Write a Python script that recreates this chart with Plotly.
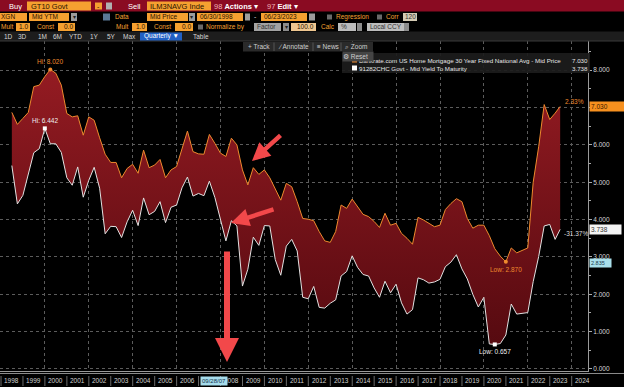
import plotly.graph_objects as go
import pandas as pd

# ---------------- data (quarterly, 06/30/1998 .. 06/23/2023) ----------------
start_date = "1998-06-30"
end_quarter = "2023-03-31"
last_date = "2023-06-23"

mortgage_30y = [6.87, 6.55, 6.71, 6.87, 7.56, 7.60, 7.83, 8.02, 7.92, 7.60,
                6.84, 6.75, 6.78, 6.26, 6.75, 6.66, 6.19, 5.75, 5.53, 5.53,
                5.12, 5.37, 5.48, 5.24, 5.86, 5.39, 5.46, 5.61, 5.12, 5.33,
                5.42, 5.91, 6.37, 5.82, 5.76, 5.75, 6.28, 6.04, 5.78, 5.69,
                6.18, 6.00, 5.33, 4.93, 5.39, 5.21, 5.33, 5.12, 4.84, 4.52,
                4.97, 4.88, 4.48, 4.03, 4.01, 3.97, 3.68, 3.43, 3.39, 3.68,
                4.39, 4.30, 4.55, 4.35, 4.14, 4.08, 3.95, 3.79, 4.17, 3.85,
                3.90, 3.63, 3.50, 3.34, 4.06, 3.99, 3.90, 3.81, 3.85, 4.27,
                4.43, 4.56, 4.48, 4.03, 3.77, 3.85, 3.85, 3.57, 3.22, 3.02,
                2.87, 3.24, 3.11, 3.18, 3.24, 5.00, 5.95, 7.08, 6.68, 6.85,
                7.03]

treasury_10y = [5.4466, 4.42, 4.65, 5.24, 5.79, 5.90, 6.442, 6.03, 6.03, 5.80,
                5.12, 4.92, 5.41, 4.60, 5.05, 5.40, 4.84, 3.62, 3.82, 3.81,
                3.52, 3.94, 4.25, 3.84, 4.58, 4.13, 4.22, 4.48, 3.92, 4.33,
                4.39, 4.85, 5.14, 4.63, 4.70, 4.64, 5.03, 4.59, 4.02, 3.43,
                3.97, 3.83, 2.22, 2.67, 3.53, 3.31, 3.84, 3.83, 2.93, 2.51,
                3.29, 3.47, 3.16, 1.92, 1.88, 2.21, 1.65, 1.63, 1.76, 1.85,
                2.49, 2.61, 3.03, 2.72, 2.53, 2.49, 2.17, 1.92, 2.35, 2.04,
                2.27, 1.77, 1.47, 1.59, 2.44, 2.39, 2.30, 2.33, 2.40, 2.74,
                2.86, 3.06, 2.68, 2.41, 2.00, 1.66, 1.92, 0.67, 0.657, 0.68,
                0.91, 1.74, 1.47, 1.49, 1.51, 2.34, 3.01, 3.83, 3.87, 3.47,
                3.738]

years = list(range(1998, 2025))
grid_years = list(range(2000, 2025, 2))
y_ticks = [0, 1, 2, 3, 4, 5, 6, 7, 8]
mortgage_name = "Bankrate.com US Home Mortgage 30 Year Fixed National Avg - Mid Price"
treasury_name = "91282CHC Govt - Mid Yield To Maturity"
cursor_date = "2007-09-28"
extra_tag = "2.835"

try:
    qdates = list(pd.date_range(start_date, end_quarter, freq="QE"))
except Exception:
    qdates = list(pd.date_range(start_date, end_quarter, freq="Q"))
dates = [d.strftime("%Y-%m-%d") for d in qdates] + [last_date]

# ---------------- geometry helpers ----------------
W, H = 624, 387
ML, MR, MT, MB = 0, 36, 41, 16
PW, PH = W - ML - MR, H - MT - MB
FONT = "Liberation Sans, Arial, sans-serif"

ORANGE = "#ee8a2e"
WHITE_LINE = "#e2e2e2"
AMBER = "#f5a030"
RED_BAR = "#8a0b22"


def px(x):
    return (x - ML) / PW


def py(y):
    return (H - MB - y) / PH


shapes = []
ann = []


def rect(x0, y0, x1, y1, fill, line=None):
    shapes.append(dict(type="rect", xref="paper", yref="paper",
                       x0=px(x0), x1=px(x1), y0=py(y1), y1=py(y0),
                       fillcolor=fill, layer="above",
                       line=dict(width=1 if line else 0, color=line or fill)))


def hline(x0, x1, y, color, width=1, dash="solid"):
    shapes.append(dict(type="line", xref="paper", yref="paper",
                       x0=px(x0), x1=px(x1), y0=py(y), y1=py(y), layer="above",
                       line=dict(color=color, width=width, dash=dash)))


def text(x, y, s, color, size=6.5, anchor="left", bg=None, width=None, height=None, align="left"):
    d = dict(xref="paper", yref="paper", x=px(x), y=py(y), text=s, showarrow=False,
             xanchor=anchor, yanchor="middle", align=align, borderpad=0,
             font=dict(color=color, size=size, family=FONT))
    if bg:
        d["bgcolor"] = bg
    if width:
        d["width"] = width
    if height:
        d["height"] = height
    ann.append(d)


fig = go.Figure()

# ---------------- series ----------------
fig.add_trace(go.Scatter(x=dates, y=treasury_10y, mode="lines",
                         line=dict(color=WHITE_LINE, width=1), hoverinfo="skip"))
fig.add_trace(go.Scatter(x=dates, y=mortgage_30y, mode="lines", fill="tonexty",
                         fillgradient=dict(type="vertical",
                                           colorscale=[[0, "#560a10"], [1, "#941b22"]]),
                         line=dict(color=ORANGE, width=1), hoverinfo="skip"))

# hi / low markers computed from the data
m_hi = mortgage_30y.index(max(mortgage_30y))
m_lo = mortgage_30y.index(min(mortgage_30y))
t_hi = treasury_10y.index(max(treasury_10y))
t_lo = treasury_10y.index(min(treasury_10y))
fig.add_trace(go.Scatter(x=[dates[m_hi], dates[m_lo]], y=[mortgage_30y[m_hi], mortgage_30y[m_lo]],
                         mode="markers", marker=dict(color=ORANGE, size=4), hoverinfo="skip"))
fig.add_trace(go.Scatter(x=[dates[t_hi], dates[t_lo]], y=[treasury_10y[t_hi], treasury_10y[t_lo]],
                         mode="markers", marker=dict(color="white", size=4, symbol="square"),
                         hoverinfo="skip"))


def data_label(i, series, s, color, above):
    ann.append(dict(x=dates[i], y=series[i], xref="x", yref="y", text=s, showarrow=False,
                    xanchor="center", yanchor="bottom" if above else "top",
                    yshift=2 if above else -2,
                    font=dict(color=color, size=6.5, family=FONT)))


data_label(m_hi, mortgage_30y, "Hi: %.3f" % mortgage_30y[m_hi], ORANGE, True)
data_label(t_hi, treasury_10y, "Hi: %.3f" % treasury_10y[t_hi], "#eeeeee", True)
data_label(m_lo, mortgage_30y, "Low: %.3f" % mortgage_30y[m_lo], ORANGE, False)
data_label(t_lo, treasury_10y, "Low: %.3f" % treasury_10y[t_lo], "#eeeeee", False)

m_pct = (mortgage_30y[-1] / mortgage_30y[0] - 1) * 100
t_pct = (treasury_10y[-1] / treasury_10y[0] - 1) * 100
ann.append(dict(x=dates[-1], y=mortgage_30y[-1], xref="x", yref="y", text="%.2f%%" % m_pct,
                showarrow=False, xanchor="left", yanchor="middle", xshift=3, yshift=5,
                font=dict(color=ORANGE, size=6.5, family=FONT)))
ann.append(dict(x=dates[-1], y=treasury_10y[-1], xref="x", yref="y", text="%.2f%%" % t_pct,
                showarrow=False, xanchor="left", yanchor="middle", xshift=2, yshift=-4,
                font=dict(color="#dddddd", size=6.5, family=FONT)))

# ---------------- top Bloomberg chrome ----------------
rect(0, 0, W, 11.5, RED_BAR)
rect(0, 31.5, W, 41, "#1d1d1d")
hline(0, W, 41, "#3a3a3a")

text(8, 6, "Buy", "white", 7.5)
rect(27, 1.5, 91, 10.5, AMBER)
text(30, 6, "GT10 Govt", "#2a1200", 7.5)
rect(95, 2.5, 102, 9.5, AMBER)
text(98.5, 6, "-", "#2a1200", 7, "center")
rect(106, 2.5, 112, 9.5, "#b0b0b0")
text(127, 6, "Sell", "white", 7.5)
rect(147, 1.5, 211, 10.5, AMBER)
text(149, 6, "ILM3NAVG Inde", "#2a1200", 7.5)
text(213, 6, "<span style='color:#f2b0b8'>98</span> <b>Actions</b> \u25be", "white", 7.5)
text(266, 6, "<span style='color:#f2b0b8'>97</span> <b>Edit</b> \u25be", "white", 7.5)

# row 2
R2 = 17
rect(-2, 13, 27, 21, AMBER); text(0, R2, "XGN", "#2a1200")
rect(29, 13, 69, 21, AMBER); text(31, R2, "Mid YTM", "#2a1200")
rect(71, 13, 77, 21, "#9c9c9c"); text(74, R2, "\u25be", "#222", 6, "center")
rect(103, 13.5, 110, 20.5, "#5a7896")
text(114, R2, "Data", AMBER)
rect(147, 13, 188, 21, AMBER); text(149, R2, "Mid Price", "#2a1200")
rect(189, 13, 195, 21, "#9c9c9c"); text(192, R2, "\u25be", "#222", 6, "center")
rect(197, 13, 243, 21, AMBER); text(199, R2, "06/30/1998", "#2a1200")
rect(245, 13.5, 250, 20.5, "#9c9c9c")
text(255, R2, "-", "#dddddd", 7, "center")
rect(261, 13, 307, 21, AMBER); text(263, R2, "06/23/2023", "#2a1200")
rect(309, 13.5, 315, 20.5, "#9c9c9c")
rect(327, 14.5, 332, 19.5, "#6a6a6a"); text(335, R2, "Regression", AMBER)
rect(377, 14.5, 382, 19.5, "#6a6a6a"); text(385, R2, "Corr", AMBER)
rect(403, 13, 417, 21, "#d4cbb4"); text(410, R2, "120", "#333", 6.5, "center")

# row 3
R3 = 27
text(14, R3, "Mult", AMBER, 6.5, "right")
rect(16, 23, 30, 31, AMBER); text(29, R3, "1.0", "#2a1200", 6.5, "right")
text(36, R3, "Const", AMBER)
rect(58, 23, 75, 31, AMBER); text(74, R3, "0.0", "#2a1200", 6.5, "right")
text(115, R3, "Mult", AMBER)
rect(132, 23, 147, 31, AMBER); text(146, R3, "1.0", "#2a1200", 6.5, "right")
text(153, R3, "Const", AMBER)
rect(175, 23, 193, 31, AMBER); text(192, R3, "0.0", "#2a1200", 6.5, "right")
rect(198, 24.5, 203, 29.5, "#6a6a6a"); text(205, R3, "Normalize by", AMBER)
rect(254, 23, 281, 31, "#a2a2a2"); text(256, R3, "Factor", "#333")
rect(283, 23, 289, 31, "#8c8c8c"); text(286, R3, "\u25be", "#222", 6, "center")
rect(291, 23, 316, 31, "#eec690"); text(315, R3, "100.0", "#2a1200", 6.5, "right")
text(320, R3, "Calc", AMBER)
rect(338, 23, 356, 31, "#bdbdbd"); text(340, R3, "%", "#333")
rect(357, 23, 362, 31, "#8c8c8c")
rect(367, 23, 404, 31, "#bdbdbd"); text(369, R3, "Local CCY", "#333")
rect(404, 23, 409, 31, "#8c8c8c")

# row 4 toolbar
R4 = 36.5
for lbl, x in [("1D", 3), ("3D", 17), ("1M", 37), ("6M", 52), ("YTD", 68),
               ("1Y", 89), ("5Y", 106), ("Max", 122)]:
    text(x, R4, lbl, "#d6d6d6")
rect(140, 32.5, 182, 40.5, "#2160c4")
text(161, R4, "Quarterly \u25bc", "white", 6.5, "center")
text(192, R4, "Table", "#d6d6d6")

# chart tool buttons
rect(243, 42, 373, 51.5, "#2a2a2a")
for x in [274, 313, 341]:
    shapes.append(dict(type="line", xref="paper", yref="paper", x0=px(x), x1=px(x),
                       y0=py(51), y1=py(42.5), layer="above",
                       line=dict(color="#555", width=1)))
text(247, 46.8, "+ Track", "#cfcfcf")
text(277, 46.8, "\u2215 Annotate", "#cfcfcf")
text(316, 46.8, "\u2261 News", "#cfcfcf")
text(344, 46.8, "\u2315 Zoom", "#cfcfcf")

# legend box
rect(342, 53, 590, 73, "rgba(28,28,28,0.92)")
rect(352, 57.5, 357, 62.5, ORANGE)
text(358, 60.5, mortgage_name, "#e6e6e6", 6.2)
text(589, 60.5, "%.3f" % mortgage_30y[-1], "#e6e6e6", 6.2, "right")
rect(352, 65.5, 357, 70.5, "white")
text(358, 68.3, treasury_name, "#e6e6e6", 6.2)
text(589, 68.3, "%.3f" % treasury_10y[-1], "#e6e6e6", 6.2, "right")
text(342, 57, "\u2699 Reset", "#cfcfcf", 6.5, "left", "#454545", 30, 9)


# right-side value tags
def tag(val, s, bg, fg, size=6.5, w=34):
    ann.append(dict(xref="paper", yref="y", x=px(589), y=val, text=s, showarrow=False,
                    xanchor="left", yanchor="middle", bgcolor=bg, borderpad=1,
                    width=w, align="left",
                    font=dict(color=fg, size=size, family=FONT)))


tag(mortgage_30y[-1], "%.3f" % mortgage_30y[-1], "#f7901e", "#3a1800")
tag(treasury_10y[-1], "%.3f" % treasury_10y[-1], "#f4f4f4", "#333333", 6.5, 29)
tag(float(extra_tag), extra_tag, "#a9dfea", "#1a3a4a", 5.5, 19)

# tick labels hidden under the last-value tag (as on the terminal)
covered = {round(mortgage_30y[-1])}
y_text = ["" if v in covered else "%.3f" % v for v in y_ticks]

# bottom date band
cursor_year = pd.Timestamp(cursor_date).year
hline(0, W, 373.5, "#8a8a8a")
for yv in years + [2025]:
    shapes.append(dict(type="line", xref="x", yref="paper",
                       x0="%d-01-01" % yv, x1="%d-01-01" % yv, y0=py(386), y1=py(376),
                       layer="above", line=dict(color="#6a6a6a", width=1)))
for yv in years:
    if yv == cursor_year:
        continue
    ann.append(dict(xref="x", yref="paper", x="%d-07-02" % yv, y=py(380.5), text=str(yv),
                    showarrow=False, xanchor="center", yanchor="middle",
                    font=dict(color="#d0d0d0", size=6.5, family=FONT)))
ann.append(dict(xref="x", yref="paper", x=cursor_date, y=py(380.5), xshift=-1,
                text=pd.Timestamp(cursor_date).strftime("%m/%d/%y"), showarrow=False,
                xanchor="center", yanchor="middle", bgcolor="#a6dcec", borderpad=1,
                font=dict(color="#12324a", size=6, family=FONT)))

# red call-out arrows
ARROW = "#f2484a"
for tip, tail, w, s in [((252, 161), (282, 134), 4.5, 0.8),
                        ((231, 223), (275, 209), 4.5, 0.8),
                        ((227, 362), (227, 250), 6, 0.8)]:
    ann.append(dict(xref="paper", yref="paper", x=px(tip[0]), y=py(tip[1]),
                    axref="pixel", ayref="pixel", ax=tail[0] - tip[0], ay=tail[1] - tip[1],
                    text="", showarrow=True, arrowhead=2, arrowsize=s, arrowwidth=w,
                    arrowcolor=ARROW))

fig.update_layout(
    width=W, height=H,
    margin=dict(l=ML, r=MR, t=MT, b=MB, pad=0),
    paper_bgcolor="black", plot_bgcolor="black",
    showlegend=False,
    font=dict(family=FONT, color="#d0d0d0", size=7),
    xaxis=dict(type="date", range=["1997-12-15", "2024-09-28"],
               tickvals=["%d-01-01" % g for g in grid_years],
               showticklabels=False, ticks="",
               showgrid=True, gridcolor="#5c5c5c", griddash="dot", gridwidth=1,
               showline=True, linecolor="#9a9a9a", zeroline=False),
    yaxis=dict(side="right", range=[-0.054, 8.782],
               tickvals=y_ticks, ticktext=y_text,
               tickfont=dict(size=6.5, color="#d6d6d6", family=FONT),
               ticks="outside", ticklen=3, tickcolor="#aaaaaa",
               showgrid=True, gridcolor="#5c5c5c", griddash="dot", gridwidth=1,
               showline=True, linecolor="#9a9a9a", zeroline=False,
               minor=dict(dtick=0.5, ticks="outside", ticklen=2, tickcolor="#aaaaaa",
                          showgrid=False)),
    shapes=shapes,
    annotations=ann,
)

fig.write_html("out.html", config={"displayModeBar": False},
               post_script="document.body.style.margin='0';document.body.style.padding='0';"
                           "document.body.style.background='black';")
